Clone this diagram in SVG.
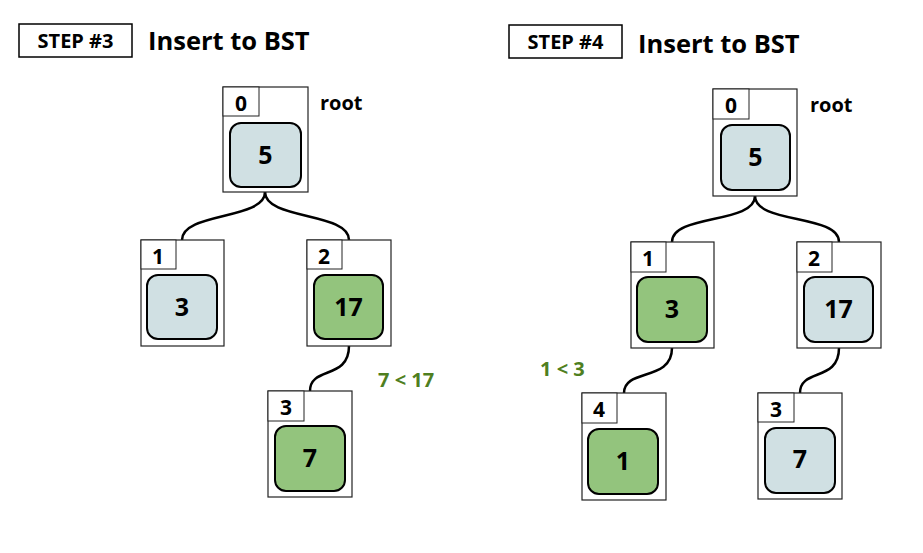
<svg xmlns="http://www.w3.org/2000/svg" width="923" height="553" viewBox="0 0 923 553">
<style>
.hdr{fill:#fff;stroke:#000;stroke-width:1.5}
.outer{fill:#fff;stroke:#222;stroke-width:1.2}
.idx{fill:#fff;stroke:#222;stroke-width:1}
.blue{fill:#d0e0e3;stroke:#000;stroke-width:2}
.green{fill:#93c47d;stroke:#000;stroke-width:2}
text{font-family:"Open Sans","Noto Sans","Liberation Sans",sans-serif;font-weight:bold;fill:#000}
.step{font-size:20px;text-anchor:middle}
.title{font-size:25.5px}
.num{font-size:25px;text-anchor:middle}
.ix{font-size:21px;text-anchor:middle}
.root{font-size:20px}
.cmp{font-size:20px;fill:#4f7f1f}
.edge{fill:none;stroke:#000;stroke-width:2.5}
</style>
<rect width="923" height="553" fill="#fff"/>
<g id="header3">
<rect class="hdr" x="19" y="24" width="113" height="33"/>
<text class="step" x="75.5" y="48">STEP #3</text>
<text class="title" x="148" y="50">Insert to BST</text>
</g>
<g id="header4">
<rect class="hdr" x="509" y="25" width="113" height="33"/>
<text class="step" x="565.5" y="49">STEP #4</text>
<text class="title" x="638" y="53">Insert to BST</text>
</g>
<g id="connectors">
<path class="edge" d="M265,192 C265,220 182,212 182,240"/>
<path class="edge" d="M265,192 C265,220 349,212 349,240"/>
<path class="edge" d="M349,346 C349,380 310,366 310,391"/>
<path class="edge" d="M755,196 C755,224 672,214 672,242"/>
<path class="edge" d="M755,196 C755,224 839,214 839,242"/>
<path class="edge" d="M672,348 C672,382 624,368 624,393"/>
<path class="edge" d="M839,348 C839,382 800,368 800,393"/>
</g>
<g id="s3n0">
<rect class="outer" x="223" y="87" width="85" height="105"/>
<rect class="idx" x="223" y="87" width="36" height="29"/>
<text class="ix" x="241" y="111">0</text>
<rect class="blue" x="230" y="123" width="71" height="64" rx="11"/>
<text class="num" x="265.5" y="164">5</text>
<text class="root" x="320" y="110">root</text>
</g>
<g id="s3n1">
<rect class="outer" x="141" y="240" width="83" height="106"/>
<rect class="idx" x="141" y="240" width="35" height="29"/>
<text class="ix" x="158" y="264">1</text>
<rect class="blue" x="147" y="275" width="70" height="64" rx="11"/>
<text class="num" x="182" y="316">3</text>
</g>
<g id="s3n2">
<rect class="outer" x="307" y="240" width="84" height="106"/>
<rect class="idx" x="307" y="240" width="35" height="29"/>
<text class="ix" x="324" y="264">2</text>
<rect class="green" x="314" y="275" width="69" height="64" rx="11"/>
<text class="num" x="348.5" y="316">17</text>
</g>
<g id="s3n3">
<rect class="outer" x="268" y="391" width="84" height="106"/>
<rect class="idx" x="268" y="391" width="36" height="30"/>
<text class="ix" x="286" y="415">3</text>
<rect class="green" x="275" y="426" width="70" height="65" rx="11"/>
<text class="num" x="310" y="467">7</text>
<text class="cmp" x="378" y="387">7 &lt; 17</text>
</g>
<g id="s4n0">
<rect class="outer" x="713" y="89" width="84" height="107"/>
<rect class="idx" x="713" y="89" width="36" height="30"/>
<text class="ix" x="731" y="113">0</text>
<rect class="blue" x="721" y="125" width="69" height="65" rx="11"/>
<text class="num" x="755.5" y="166">5</text>
<text class="root" x="810" y="112">root</text>
</g>
<g id="s4n1">
<rect class="outer" x="631" y="242" width="83" height="106"/>
<rect class="idx" x="631" y="242" width="35" height="30"/>
<text class="ix" x="648" y="266">1</text>
<rect class="green" x="637" y="277" width="70" height="65" rx="11"/>
<text class="num" x="672" y="318">3</text>
</g>
<g id="s4n2">
<rect class="outer" x="797" y="242" width="84" height="106"/>
<rect class="idx" x="797" y="242" width="35" height="30"/>
<text class="ix" x="814" y="266">2</text>
<rect class="blue" x="804" y="277" width="69" height="65" rx="11"/>
<text class="num" x="838.5" y="318">17</text>
</g>
<g id="s4n4">
<rect class="outer" x="582" y="393" width="84" height="107"/>
<rect class="idx" x="582" y="393" width="35" height="30"/>
<text class="ix" x="599" y="417">4</text>
<rect class="green" x="588" y="429" width="70" height="65" rx="11"/>
<text class="num" x="623" y="470">1</text>
<text class="cmp" x="540" y="376">1 &lt; 3</text>
</g>
<g id="s4n3">
<rect class="outer" x="758" y="393" width="84" height="106"/>
<rect class="idx" x="758" y="393" width="36" height="29"/>
<text class="ix" x="776" y="417">3</text>
<rect class="blue" x="765" y="428" width="70" height="65" rx="11"/>
<text class="num" x="800" y="468">7</text>
</g>
</svg>
